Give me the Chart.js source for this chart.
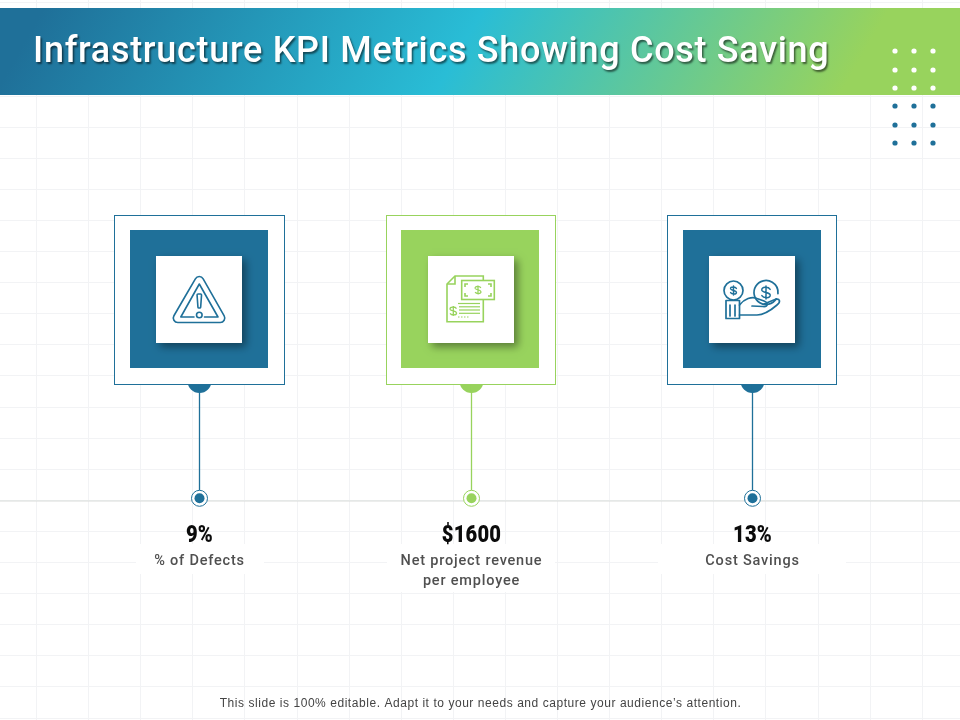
<!DOCTYPE html>
<html><head><meta charset="utf-8"><title>Infrastructure KPI Metrics Showing Cost Saving</title>
<style>html,body{margin:0;padding:0;background:#fff}canvas{display:block}</style>
<script src="https://cdn.jsdelivr.net/npm/chart.js@4"></script></head>
<body><canvas id="c" width="960" height="720"></canvas>
<script>
// ---- content ----
const slideTitle = "Infrastructure KPI Metrics Showing Cost Saving";
const footnote = "This slide is 100% editable. Adapt it to your needs and capture your audience\u2019s attention.";
const categories = ["% of Defects", "Net project revenue per employee", "Cost Savings"];
const kpiValues = [9, 1600, 13];
const kpiPrefixes = ["", "$", ""];
const kpiSuffixes = ["%", "", "%"];

// ---- layout, in slide units (the chart's scales run 0-960 / 0-720) ----
const layout = {
  cols: [199.5, 471.5, 752.5], cardLeft: [114.5, 386.5, 667.5], cardW: [170, 169, 169], cardTop: 215.5,
  innerLeft: [130, 401, 683], whiteLeft: [156, 428, 709],
  tabY: 381, railY: 501, dotY: 498.3,
  gridX0: 36.5, gridDX: 52.1, gridY0: 2.7, gridDY: 31.1
};
const BLUE = "#1f7099", GREEN = "#98d35d";
const palette = [BLUE, GREEN, BLUE];
const captionLines = [["% of Defects"], ["Net project revenue", "per employee"], ["Cost Savings"]];
const masks = [[136, 544, 128, 30], [387, 544, 168, 48], [658, 544, 188, 30]];

const ticksFrom = (start, step, max) => { const t = []; for (let v = start; v < max; v += step) t.push({ value: v }); return t; };
const atCols = y => layout.cols.map(x => ({ x, y }));

function roundedPoly(ctx, pts, r) {
  ctx.beginPath();
  const n = pts.length;
  ctx.moveTo((pts[n-1][0]+pts[0][0])/2, (pts[n-1][1]+pts[0][1])/2);
  for (let i = 0; i < n; i++) { const a = pts[i], b = pts[(i+1)%n]; ctx.arcTo(a[0], a[1], (a[0]+b[0])/2, (a[1]+b[1])/2, r); }
  ctx.closePath();
}
function dollar(ctx, x, y, h) {
  const w = h*0.32, s = h*0.4;
  ctx.beginPath();
  ctx.moveTo(x+w, y-s*0.6);
  ctx.bezierCurveTo(x+w*0.6, y-s*1.15, x-w*1.2, y-s*1.15, x-w, y-s*0.45);
  ctx.bezierCurveTo(x-w*0.8, y+s*0.05, x+w*0.9, y-s*0.05, x+w, y+s*0.45);
  ctx.bezierCurveTo(x+w*1.2, y+s*1.15, x-w*0.6, y+s*1.15, x-w, y+s*0.6);
  ctx.moveTo(x, y-h/2); ctx.lineTo(x, y+h/2);
  ctx.stroke();
}
function line(ctx, a, b, c, d) { ctx.beginPath(); ctx.moveTo(a, b); ctx.lineTo(c, d); ctx.stroke(); }

function warningIcon(ctx, cx) {
  const dx = cx - 199.5; ctx.save(); ctx.translate(dx, 0);
  ctx.strokeStyle = BLUE; ctx.lineWidth = 1.6; ctx.lineCap = "round"; ctx.lineJoin = "round";
  roundedPoly(ctx, [[199.3, 272], [228, 322.5], [170, 322.5]], 4.5); ctx.stroke();
  ctx.beginPath(); ctx.moveTo(194, 317); ctx.lineTo(180.8, 317); ctx.lineTo(199.3, 284); ctx.lineTo(218, 317); ctx.lineTo(204.5, 317); ctx.stroke();
  roundedPoly(ctx, [[197, 294], [201.6, 294], [200.6, 308], [198, 308]], 1); ctx.stroke();
  ctx.beginPath(); ctx.arc(199.3, 315, 2.8, 0, 7); ctx.stroke();
  ctx.restore();
}
function billIcon(ctx, cx) {
  const dx = cx - 471.5; ctx.save(); ctx.translate(dx, 0);
  ctx.strokeStyle = GREEN; ctx.lineWidth = 1.6; ctx.lineCap = "butt"; ctx.lineJoin = "miter";
  ctx.beginPath(); ctx.moveTo(483.3, 280); ctx.lineTo(483.3, 276); ctx.lineTo(455, 276); ctx.lineTo(447, 284); ctx.lineTo(447, 321.7); ctx.lineTo(483.3, 321.7); ctx.lineTo(483.3, 299.5); ctx.stroke();
  ctx.beginPath(); ctx.moveTo(455, 276); ctx.lineTo(455, 284); ctx.lineTo(447, 284); ctx.stroke();
  ctx.strokeRect(461.7, 280.5, 32.6, 19);
  [[465, 284, 1, 1], [491, 284, -1, 1], [465, 296, 1, -1], [491, 296, -1, -1]].forEach(([x, y, a, b]) => {
    ctx.beginPath(); ctx.moveTo(x + 3*a, y); ctx.lineTo(x, y); ctx.lineTo(x, y + 3*b); ctx.stroke();
  });
  ctx.lineWidth = 1.3; dollar(ctx, 478, 290, 9);
  dollar(ctx, 453.3, 311, 10);
  ctx.lineWidth = 1.2;
  [303.5, 306.8, 310, 313.3].forEach((y, i) => line(ctx, i === 0 ? 458 : 459, y, 480, y));
  ctx.setLineDash([1.5, 1.5]); line(ctx, 458, 317, 470, 317); ctx.setLineDash([]);
  ctx.restore();
}
function handIcon(ctx, cx) {
  const dx = cx - 752.5; ctx.save(); ctx.translate(dx, 0);
  ctx.strokeStyle = BLUE; ctx.lineWidth = 1.7; ctx.lineCap = "round"; ctx.lineJoin = "round";
  ctx.beginPath(); ctx.arc(733.5, 290.5, 9.5, 0, 7); ctx.stroke();
  ctx.beginPath(); ctx.arc(766, 292.5, 12, 0.55, Math.PI*2 + 0.1); ctx.stroke();
  ctx.lineWidth = 1.5; dollar(ctx, 733.5, 290.5, 9); dollar(ctx, 766, 292.5, 13);
  ctx.lineWidth = 1.7; ctx.strokeRect(726, 300.5, 13.5, 18);
  line(ctx, 730, 305, 730, 316); line(ctx, 735, 305, 735, 316);
  ctx.beginPath(); ctx.moveTo(739.5, 305); ctx.bezierCurveTo(744, 299, 752, 296, 757, 298.5);
  ctx.lineTo(764, 301); ctx.bezierCurveTo(769, 303, 768, 307, 763, 306.5); ctx.lineTo(752, 306);
  ctx.moveTo(764, 304); ctx.lineTo(775, 299.5); ctx.bezierCurveTo(780, 298, 781, 302, 777, 305);
  ctx.bezierCurveTo(770, 311, 763, 315, 757, 315); ctx.lineTo(739.5, 315); ctx.stroke();
  ctx.restore();
}
const iconPainters = [warningIcon, billIcon, handIcon];

function spaced(ctx, text, x, y, font, color, spacing, align, xScale) {
  ctx.save();
  ctx.font = font; ctx.fillStyle = color; ctx.letterSpacing = spacing + "px"; ctx.textAlign = align || "center"; ctx.textBaseline = "alphabetic";
  ctx.translate(x, y); ctx.scale(xScale || 1, 1);
  ctx.fillText(text, 0, 0);
  ctx.restore();
}

const slidePlugin = {
  id: "slide",
  afterDatasetsDraw(chart) {
    const ctx = chart.ctx, sx = chart.scales.x, sy = chart.scales.y;
    ctx.save();
    // banner
    const g = ctx.createLinearGradient(20, 50, 656, 415);
    g.addColorStop(0, BLUE); g.addColorStop(0.52, "#29bdd6"); g.addColorStop(1, GREEN);
    ctx.fillStyle = g; ctx.fillRect(0, 8, 960, 87);
    ctx.save();
    ctx.shadowColor = "rgba(0,0,0,.55)"; ctx.shadowBlur = 2; ctx.shadowOffsetX = 1.5; ctx.shadowOffsetY = 1.5;
    spaced(ctx, slideTitle, 33, 62, "500 36px Roboto", "#ffffff", 0.7, "left");
    ctx.restore();
    // dot motif
    [895, 914, 933].forEach(x => [51, 70, 88, 106, 125, 143].forEach((y, i) => {
      ctx.fillStyle = i < 3 ? "#ffffff" : BLUE;
      ctx.beginPath(); ctx.arc(x, y, 2.6, 0, 7); ctx.fill();
    }));
    // white patches behind captions
    ctx.fillStyle = "#ffffff"; masks.forEach(m => ctx.fillRect(m[0], m[1], m[2], m[3]));
    // cards
    categories.forEach((cat, i) => {
      const c = palette[i], L = layout.cardLeft[i], T = layout.cardTop, W = layout.cardW[i];
      ctx.fillStyle = "#ffffff"; ctx.fillRect(L, T, W, 169);
      ctx.strokeStyle = c; ctx.lineWidth = 1; ctx.strokeRect(L, T, W, 169);
      ctx.fillStyle = c; ctx.fillRect(layout.innerLeft[i], T + 14.5, 138, 138);
      ctx.save(); ctx.shadowColor = "rgba(0,0,0,.4)"; ctx.shadowBlur = 8; ctx.shadowOffsetX = 4; ctx.shadowOffsetY = 4;
      ctx.fillStyle = "#ffffff"; ctx.fillRect(layout.whiteLeft[i], T + 40.5, 86, 87); ctx.restore();
      iconPainters[i](ctx, layout.cols[i]);
      // value + caption
      const x = sx.getPixelForValue(layout.cols[i]);
      spaced(ctx, kpiPrefixes[i] + kpiValues[i] + kpiSuffixes[i], x, sy.getPixelForValue(542), "900 24px Roboto", "#0b0b0b", 0.2, "center", 0.84);
      captionLines[i].forEach((t, k) => spaced(ctx, t, x, sy.getPixelForValue(565 + 19.5*k), "500 14.5px Roboto", "#505050", 0.8));
    });
    spaced(ctx, footnote, 480.5, 707, "12px 'Liberation Sans'", "#444444", 0.55);
    ctx.restore();
  }
};

new Chart(document.getElementById("c"), {
  type: "scatter",
  data: { datasets: [
    { label: "inner dots", data: atCols(layout.dotY), pointRadius: 5, pointBorderWidth: 0, pointBackgroundColor: palette, pointBorderColor: palette },
    { label: "rings", data: atCols(layout.dotY), pointRadius: 8, pointBorderWidth: 1, pointBackgroundColor: "#ffffff", pointBorderColor: palette },
    ...categories.map((name, i) => ({ label: name, type: "line", data: [{ x: layout.cols[i], y: layout.tabY }, { x: layout.cols[i], y: layout.dotY }], borderColor: palette[i], borderWidth: 1.3, pointRadius: 0, fill: false })),
    { label: "tabs", data: atCols(layout.tabY), pointRadius: 12, pointBorderWidth: 0, pointBackgroundColor: palette, pointBorderColor: palette },
    { label: "rail", type: "line", data: [{ x: 0, y: layout.railY }, { x: 960, y: layout.railY }], borderColor: "#d9dcd9", borderWidth: 1, pointRadius: 0, fill: false }
  ] },
  options: {
    responsive: false, animation: false, devicePixelRatio: 1,
    layout: { padding: 0, autoPadding: false },
    plugins: { legend: { display: false }, tooltip: { enabled: false }, title: { display: false } },
    scales: {
      x: { type: "linear", min: 0, max: 960, border: { display: false }, ticks: { display: false },
           grid: { color: "#f2f3f5", lineWidth: 1, drawTicks: false },
           afterBuildTicks: s => { s.ticks = ticksFrom(layout.gridX0, layout.gridDX, 960); } },
      y: { type: "linear", min: 0, max: 720, reverse: true, border: { display: false }, ticks: { display: false },
           grid: { color: "#f2f3f5", lineWidth: 1, drawTicks: false },
           afterBuildTicks: s => { s.ticks = ticksFrom(layout.gridY0, layout.gridDY, 720); } }
    }
  },
  plugins: [slidePlugin]
});
</script></body></html>
